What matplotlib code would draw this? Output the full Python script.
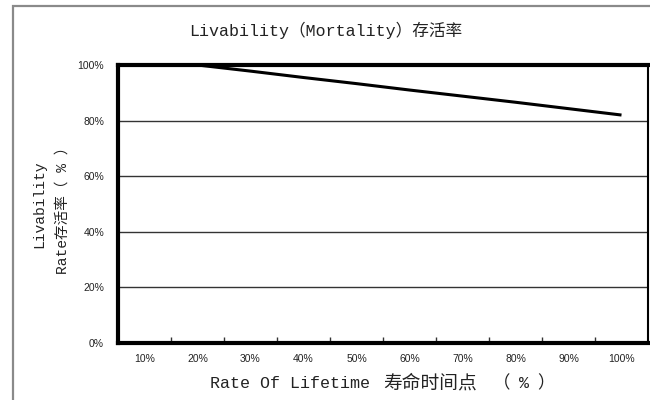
import matplotlib
matplotlib.use("Agg")
import matplotlib.pyplot as plt
from matplotlib.patches import Rectangle
from matplotlib.ticker import FixedLocator, PercentFormatter

categories = ["10%", "20%", "30%", "40%", "50%", "60%", "70%", "80%", "90%", "100%"]
livability = [100.0, 100.0, 97.8, 95.5, 93.3, 91.0, 88.8, 86.6, 84.3, 82.0]
y_ticks = [0, 20, 40, 60, 80, 100]

title_text = "Livability\uff08Mortality\uff09存活率"
xlabel_parts = ["Rate Of Lifetime", "寿命时间点", "\uff08", "%", "\uff09"]
ylabel_lines = ["Livability", "Rate存活率\uff08 % \uff09"]

LAT = ["Liberation Mono", "Noto Sans CJK SC", "DejaVu Sans"]
CJK = ["Noto Sans CJK SC", "DejaVu Sans"]
TICK = ["Liberation Sans", "DejaVu Sans"]

fig = plt.figure(figsize=(6.5, 4.0), dpi=100)
fig.patch.set_facecolor("white")

# outer frame
fig.patches.append(Rectangle((13 / 650, -0.05), 1.1, 1.05 - 6 / 400,
                             transform=fig.transFigure, fill=False,
                             edgecolor="#8a8a8a", linewidth=1.6))

ax = fig.add_axes([118 / 650, 1 - 343 / 400, 530 / 650, 278 / 400])
x = list(range(len(categories)))
ax.plot(x, livability, color="black", linewidth=2.2, zorder=2, solid_capstyle="butt")

ax.set_xlim(-0.5, len(categories) - 0.5)
ax.set_ylim(0, 100)
ax.set_yticks(y_ticks)
ax.yaxis.set_major_formatter(PercentFormatter(decimals=0))
ax.set_xticks(x)
ax.set_xticklabels(categories)
ax.xaxis.set_minor_locator(FixedLocator([i + 0.5 for i in range(len(categories) - 1)]))
ax.tick_params(axis="x", which="major", length=0, pad=8)
ax.tick_params(axis="x", which="minor", direction="in", length=4, width=1, color="#333333")
ax.tick_params(axis="y", length=0, pad=10)
for lab in ax.get_xticklabels() + ax.get_yticklabels():
    lab.set_family(TICK)
    lab.set_fontsize(7.5)
    lab.set_color("#222222")

for yv in y_ticks[1:-1]:
    ax.axhline(yv, color="#333333", linewidth=1.0, zorder=1)

for side in ["left", "bottom", "top"]:
    ax.spines[side].set_linewidth(3.0)
    ax.spines[side].set_color("black")
    ax.spines[side].set_zorder(3)
ax.spines["right"].set_linewidth(1.5)
ax.spines["right"].set_color("black")

fig.text(326 / 650, 1 - 30 / 400, title_text, ha="center", va="center",
         fontsize=12, family=LAT, color="#222222")

# x label in pieces (CJK glyphs wider than the Latin ones, as in the reference)
xl_y = 1 - 383 / 400
fig.text(210 / 650, xl_y, xlabel_parts[0], ha="left", va="center",
         fontsize=12, family=LAT, color="#222222")
fig.text(383 / 650, xl_y, xlabel_parts[1], ha="left", va="center",
         fontsize=13.5, family=CJK, color="#222222")
fig.text(510 / 650, xl_y, xlabel_parts[2], ha="right", va="center",
         fontsize=12.5, family=CJK, color="#222222")
fig.text(524 / 650, xl_y, xlabel_parts[3], ha="center", va="center",
         fontsize=12, family=LAT, color="#222222")
fig.text(537 / 650, xl_y, xlabel_parts[4], ha="left", va="center",
         fontsize=12.5, family=CJK, color="#222222")

# y label, two rotated lines
fig.text(39 / 650, 1 - 204 / 400, ylabel_lines[0], ha="center", va="center",
         rotation=90, fontsize=10.5, family=LAT, color="#222222")
fig.text(63 / 650, 1 - 207 / 400, ylabel_lines[1], ha="center", va="center",
         rotation=90, fontsize=10.5, family=LAT, color="#222222")

fig.savefig("out.png", dpi=100, facecolor="white")
